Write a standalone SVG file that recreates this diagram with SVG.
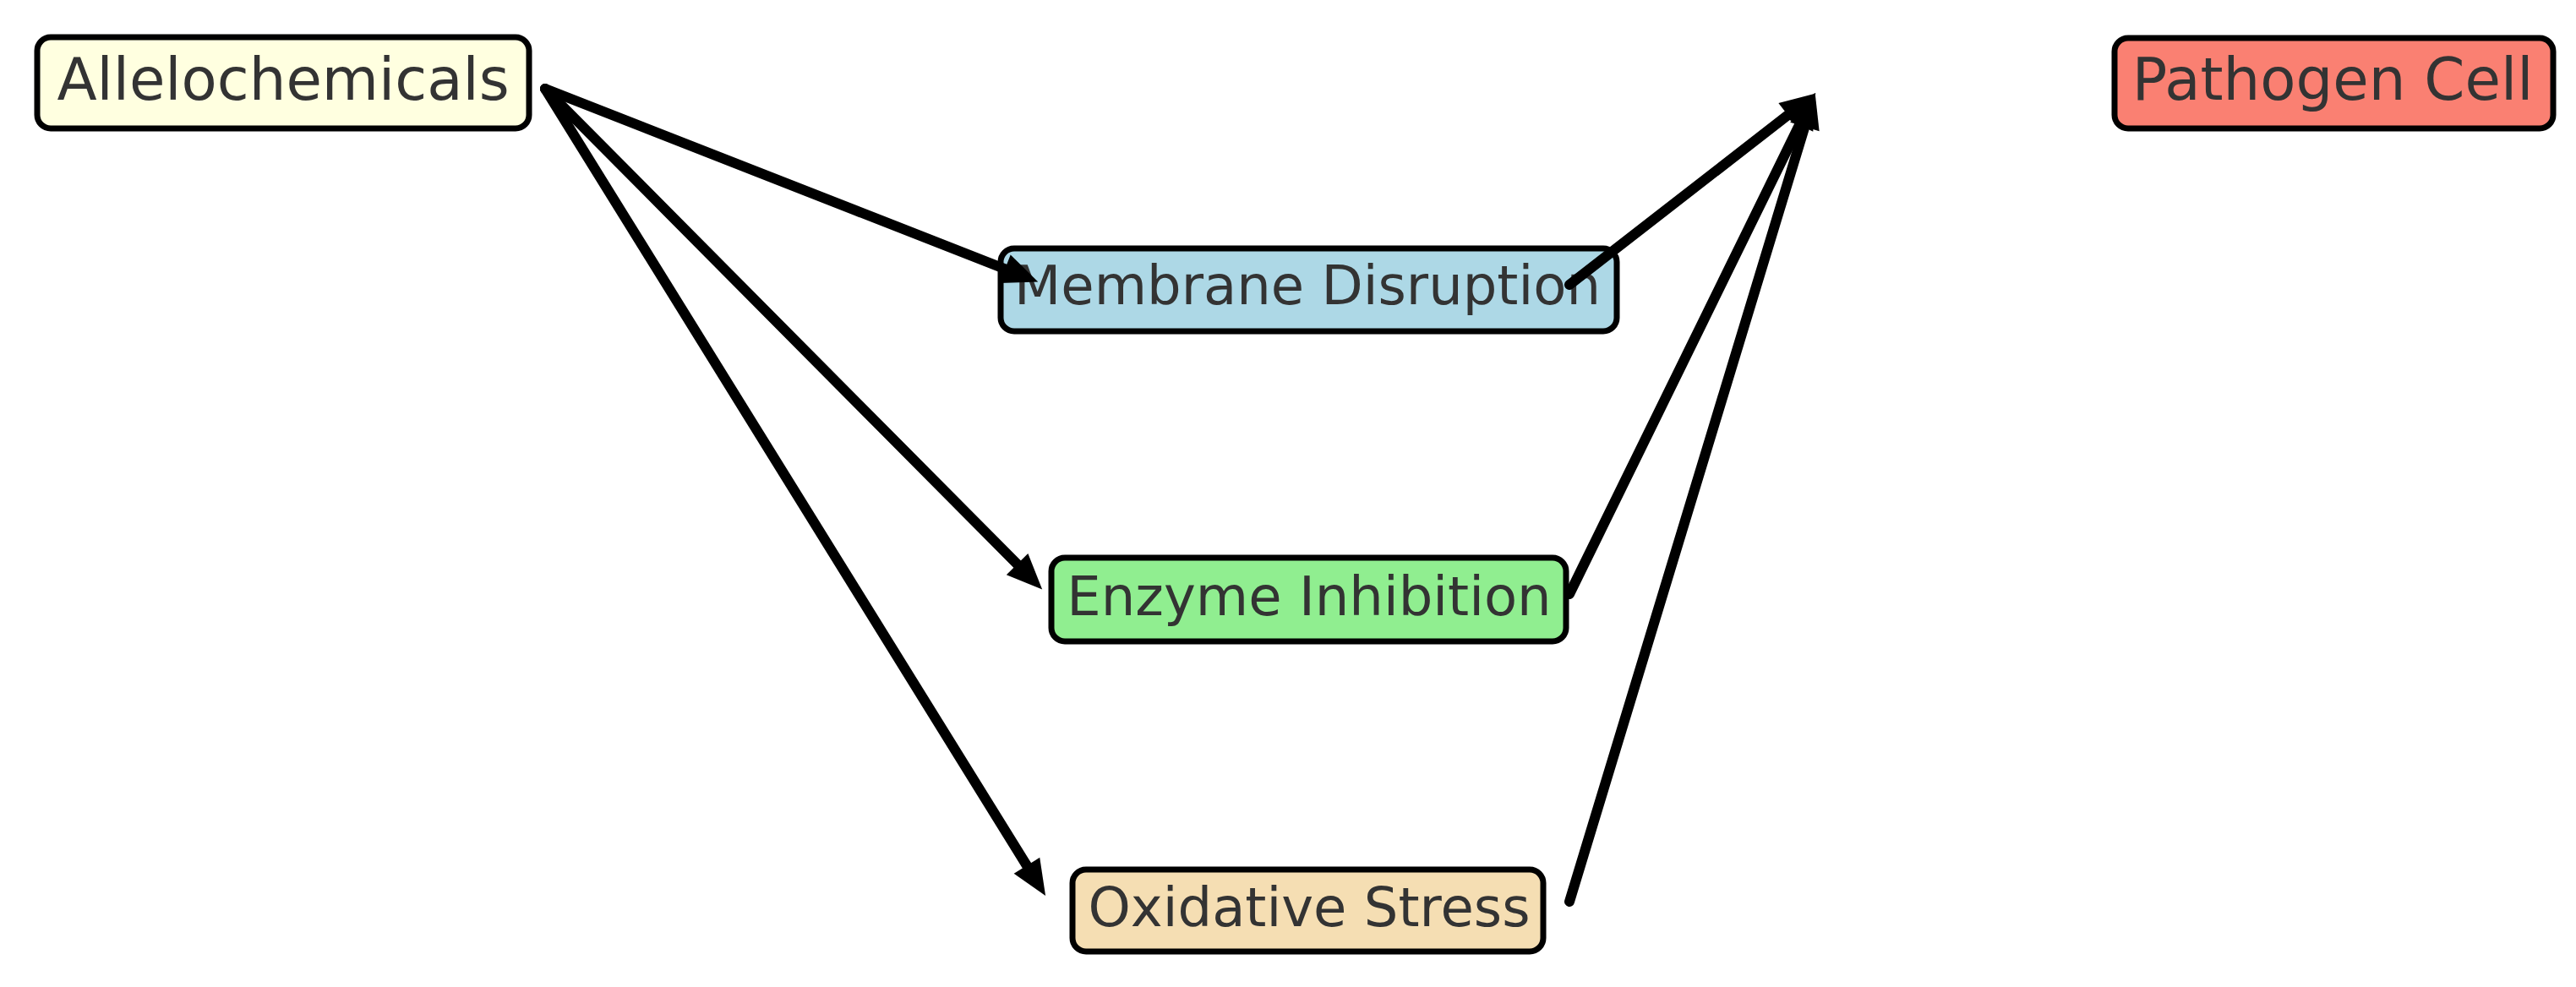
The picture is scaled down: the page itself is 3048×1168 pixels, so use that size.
<svg xmlns="http://www.w3.org/2000/svg" width="3048" height="1168" viewBox="0 0 3048 1168">
<defs>
<marker id="ah" markerUnits="userSpaceOnUse" markerWidth="80" markerHeight="80" refX="0" refY="0" viewBox="-20 -40 80 80" orient="auto" overflow="visible">
<path d="M-2,-18 L40,0 L-2,18 Z" fill="#000"/>
</marker>
<style>
.box{stroke:#000;stroke-width:7}
.lbl{font-family:"DejaVu Sans",sans-serif;font-size:69px;fill:#333333;text-anchor:middle}
.mid{font-size:64px}
.edge{stroke:#000;stroke-width:12;fill:none;stroke-linecap:round;marker-end:url(#ah)}
</style>
</defs>
<rect width="3048" height="1168" fill="#fff"/>
<g id="allelochemicals">
<rect class="box" x="44" y="44" width="582" height="108" rx="16" fill="#FFFFE0"/>
<text class="lbl" x="335" y="118">Allelochemicals</text>
</g>
<g id="membrane">
<rect class="box" x="1184" y="294" width="729" height="98" rx="16" fill="#ADD8E6"/>
<text class="lbl mid" x="1547" y="360">Membrane Disruption</text>
</g>
<g id="enzyme">
<rect class="box" x="1244" y="660" width="609" height="99" rx="16" fill="#90EE90"/>
<text class="lbl mid" x="1549" y="728">Enzyme Inhibition</text>
</g>
<g id="oxidative">
<rect class="box" x="1269" y="1029" width="557" height="97" rx="16" fill="#F5DEB3"/>
<text class="lbl mid" x="1549" y="1096">Oxidative Stress</text>
</g>
<g id="pathogen">
<rect class="box" x="2502" y="45" width="519" height="107" rx="16" fill="#FA8072"/>
<text class="lbl" x="2760" y="118">Pathogen Cell</text>
</g>
<g id="connectors">
<path class="edge" d="M645,105 L1191,319"/>
<path class="edge" d="M645,105 L1205,669"/>
<path class="edge" d="M645,105 L1216,1026"/>
<path class="edge" d="M1857,337 L2117,135"/>
<path class="edge" d="M1857,703 L2130,146"/>
<path class="edge" d="M1857,1067 L2136,148"/>
</g>
</svg>
